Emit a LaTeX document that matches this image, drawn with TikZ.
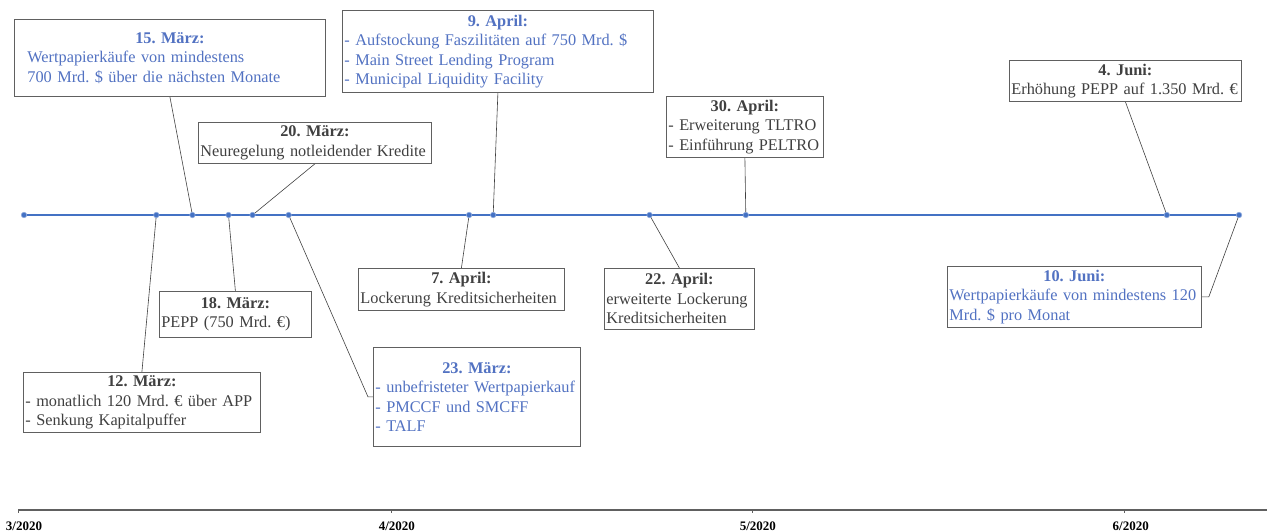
\documentclass[tikz,border=0pt]{standalone}
\usepackage{fontspec}
\setmainfont{Liberation Serif}
\usetikzlibrary{positioning, calc, backgrounds}
\definecolor{tlblue}{RGB}{68, 114, 196}
\definecolor{fedblue}{RGB}{82, 114, 194}
\definecolor{ezbgray}{RGB}{64, 64, 64}
\definecolor{boxgray}{RGB}{96, 96, 96}
\newcommand{\evhead}[1]{{\centering\bfseries #1\par}}
\frenchspacing

\begin{document}
\begin{tikzpicture}[
    x=1pt, y=-1pt,
    evbox/.style={
        rectangle,
        draw=boxgray,
        line width=0.8pt,
        fill=white,
        anchor=north west,
        align=left,
        inner xsep=2pt,
        inner ysep=0pt,
        font=\fontsize{16.3}{19.5}\selectfont\frenchspacing
    },
    fed/.style={evbox, text=fedblue},
    ezb/.style={evbox, text=ezbgray},
    link/.style={draw=ezbgray, line width=0.6pt},
    dot/.style={circle, fill=tlblue, draw=tlblue!60!white, line width=0.6pt, inner sep=0pt, minimum size=5.5pt},
    axis/.style={draw=boxgray, line width=1.1pt},
    month/.style={font=\fontsize{13}{14}\selectfont\bfseries\frenchspacing, anchor=base, inner sep=0pt}
]
    \useasboundingbox (0,0) rectangle (1267,531);

    % Zeitstrahl-Punkte (Tage ab 1. Maerz)
    \foreach \n/\d in {start/0, m12/11, m15/14, m18/17, m20/19, m23/22, a07/37, a09/39, a22/52, a30/60, j04/95, j10/101}
        \node[dot] (d-\n) at ({24+\d*12.03}, 215) {};

    % Ereignisse
    \node[fed, text width=285pt, inner xsep=13pt, minimum height=77pt] (m15) at (14,19)
        {\evhead{15. März:}Wertpapierkäufe von mindestens\\700 Mrd. \$ über die nächsten Monate};
    \node[ezb, text width=229pt, minimum height=41pt] (m20) at (198,122)
        {\evhead{20. März:}Neuregelung notleidender Kredite};
    \node[fed, text width=307pt, minimum height=82pt] (a09) at (342,10)
        {\evhead{9. April:}- Aufstockung Faszilitäten auf 750 Mrd. \$\\- Main Street Lending Program\\- Municipal Liquidity Facility};
    \node[ezb, text width=153pt, minimum height=61pt] (a30) at (666,96)
        {\evhead{30. April:}- Erweiterung TLTRO\\- Einführung PELTRO};
    \node[ezb, text width=228pt, minimum height=41pt] (j04) at (1009,60)
        {\evhead{4. Juni:}Erhöhung PEPP auf 1.350 Mrd. €};
    \node[ezb, text width=233pt, minimum height=60pt] (m12) at (23,372)
        {\evhead{12. März:}- monatlich 120 Mrd. € über APP\\- Senkung Kapitalpuffer};
    \node[ezb, text width=148pt, minimum height=46pt] (m18) at (159,291)
        {\evhead{18. März:}PEPP (750 Mrd. €)};
    \node[fed, text width=203pt, minimum height=99pt] (m23) at (373,347)
        {\evhead{23. März:}- unbefristeter Wertpapierkauf\\- PMCCF und SMCFF\\- TALF};
    \node[ezb, text width=202pt, minimum height=42pt] (a07) at (358,268)
        {\evhead{7. April:}Lockerung Kreditsicherheiten};
    \node[ezb, text width=146pt, minimum height=61pt] (a22) at (604,268)
        {\evhead{22. April:}erweiterte Lockerung\\Kreditsicherheiten};
    \node[fed, text width=250pt, minimum height=61pt] (j10) at (947,266)
        {\evhead{10. Juni:}Wertpapierkäufe von mindestens 120\\Mrd. \$ pro Monat};

    % Zeitachse unten
    \coordinate (ax-start) at (18,510);
    \coordinate (ax-end) at (1267,510);
    \draw[axis] (ax-start) -- (ax-end);
    \foreach \m/\d in {3/0, 4/31, 5/61, 6/92} {
        \draw[axis, line width=0.6pt] ({18+\d*12.03},510) -- ++(0,3);
        \node[month] (mon-\m) at ({24+\d*12.03},530) {\m/2020};
    }

    % Verbindungen
    \begin{pgfonlayer}{background}
        \draw[tlblue, line width=2.6pt] (d-start.center) -- (d-j10.center);
        \path[link] (m15.south) -- (d-m15.center);
        \path[link] (m20.south) -- (d-m20.center);
        \path[link] (a09.south) -- (d-a09.center);
        \path[link] (a30.south) -- (d-a30.center);
        \path[link] (j04.south) -- (d-j04.center);
        \path[link] (m12.north) -- (d-m12.center);
        \path[link] (m18.north) -- (d-m18.center);
        \path[link] (a07.north) -- (d-a07.center);
        \path[link] (a22.north) -- (d-a22.center);
        \path[link] (d-m23.center) -- ([xshift=-5pt]m23.west) -- (m23.west);
        \path[link] (d-j10.center) -- ([xshift=7pt]j10.east) -- (j10.east);
    \end{pgfonlayer}

\end{tikzpicture}
\end{document}
